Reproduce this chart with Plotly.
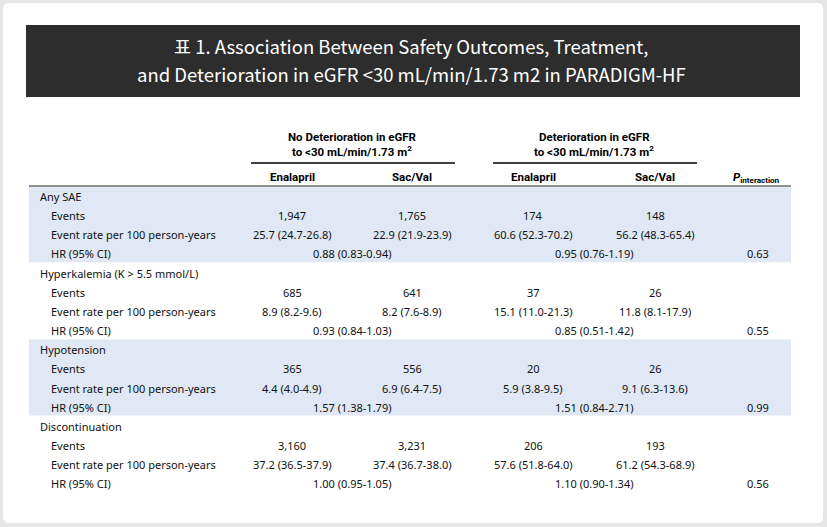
import plotly.graph_objects as go

# ---- table content ----
title_lines = ["표 1. Association Between Safety Outcomes, Treatment,",
               "and Deterioration in eGFR &lt;30 mL/min/1.73 m2 in PARADIGM-HF"]
groups = ["No Deterioration in eGFR", "Deterioration in eGFR"]
group_sub = "to &lt;30 mL/min/1.73 m<sup>2</sup>"
arms = ["Enalapril", "Sac/Val", "Enalapril", "Sac/Val"]
outcomes = ["Any SAE", "Hyperkalemia (K > 5.5 mmol/L)", "Hypotension", "Discontinuation"]
row_labels = ["Events", "Event rate per 100 person-years", "HR (95% CI)"]

no_det_enal_events = [1947, 685, 365, 3160]
no_det_sac_events = [1765, 641, 556, 3231]
det_enal_events = [174, 37, 20, 206]
det_sac_events = [148, 26, 26, 193]

no_det_enal_rate = [(25.7, 24.7, 26.8), (8.9, 8.2, 9.6), (4.4, 4.0, 4.9), (37.2, 36.5, 37.9)]
no_det_sac_rate = [(22.9, 21.9, 23.9), (8.2, 7.6, 8.9), (6.9, 6.4, 7.5), (37.4, 36.7, 38.0)]
det_enal_rate = [(60.6, 52.3, 70.2), (15.1, 11.0, 21.3), (5.9, 3.8, 9.5), (57.6, 51.8, 64.0)]
det_sac_rate = [(56.2, 48.3, 65.4), (11.8, 8.1, 17.9), (9.1, 6.3, 13.6), (61.2, 54.3, 68.9)]

no_det_hr = [(0.88, 0.83, 0.94), (0.93, 0.84, 1.03), (1.57, 1.38, 1.79), (1.00, 0.95, 1.05)]
det_hr = [(0.95, 0.76, 1.19), (0.85, 0.51, 1.42), (1.51, 0.84, 2.71), (1.10, 0.90, 1.34)]
p_interaction = [0.63, 0.55, 0.99, 0.56]

# ---- layout constants (pixel grid) ----
W, H = 827, 527
BG = "#e6e6e6"
BAND = "#dfe8f4"
BODY_FONT = "Noto Sans, Open Sans, sans-serif"
HEAD_FONT = "Liberation Sans Narrow, Roboto, sans-serif"
col_x = [292, 412, 533, 655]
hr_x = [352, 594]
p_x = 758
label_x, sub_x = 38, 49
row0, step = 196.5, 19.15


def ci(t, nd):
    return f"{t[0]:.{nd}f} ({t[1]:.{nd}f}-{t[2]:.{nd}f})"


def row_y(i):
    return row0 + i * step


fig = go.Figure()
shapes = []
ann = []

# card + banner
shapes.append(dict(type="path", path="M 9,3 L 817,3 Q 823,3 823,9 L 823,517 Q 823,523 817,523 "
                   "L 9,523 Q 3,523 3,517 L 3,9 Q 3,3 9,3 Z",
                   fillcolor="white", line_width=0, layer="below"))
shapes.append(dict(type="rect", x0=26, x1=800, y0=25, y1=97, fillcolor="#2d2d2d", line_width=0, layer="below"))
for k, t in enumerate(title_lines):
    ann.append(dict(x=411, y=46 + 28 * k, text=t, showarrow=False,
                    font=dict(family="Noto Sans CJK KR", size=18.5, color="white")))

# group headers
head = dict(family=HEAD_FONT, size=11.5, color="black")
for g, name in enumerate(groups):
    cx = (col_x[2 * g] + col_x[2 * g + 1]) / 2
    ann.append(dict(x=cx, y=137, text=f"<b>{name}</b>", showarrow=False, font=head))
    ann.append(dict(x=cx, y=151, text=f"<b>{group_sub}</b>", showarrow=False, font=head))
    shapes.append(dict(type="line", x0=cx - 101, x1=cx + 103, y0=163, y1=163,
                       line=dict(color="black", width=1.5)))

for x, a in zip(col_x, arms):
    ann.append(dict(x=x, y=177, text=f"<b>{a}</b>", showarrow=False, font=head))
ann.append(dict(x=p_x - 2, y=177, text="<b><i>P</i><sub>interaction</sub></b>", showarrow=False, font=head))
shapes.append(dict(type="line", x0=29, x1=791, y0=186, y1=186, line=dict(color="#6e6e6e", width=1.5)))

# body rows
cols = [
    (no_det_enal_events, no_det_enal_rate),
    (no_det_sac_events, no_det_sac_rate),
    (det_enal_events, det_enal_rate),
    (det_sac_events, det_sac_rate),
]
body = dict(family=BODY_FONT, size=11, color="#111111")
for g, name in enumerate(outcomes):
    base = g * 4
    if g % 2 == 0:
        shapes.append(dict(type="rect", x0=29, x1=791, y0=row_y(base) - 10.3,
                           y1=row_y(base + 4) - 10.3 - 0.5, fillcolor=BAND, line_width=0, layer="below"))
    ann.append(dict(x=label_x, y=row_y(base), text=name, xanchor="left", showarrow=False, font=body))
    for r, lab in enumerate(row_labels):
        ann.append(dict(x=sub_x, y=row_y(base + 1 + r), text=lab, xanchor="left", showarrow=False, font=body))
    for x, (ev, rate) in zip(col_x, cols):
        ann.append(dict(x=x, y=row_y(base + 1), text=f"{ev[g]:,}", showarrow=False, font=body))
        ann.append(dict(x=x, y=row_y(base + 2), text=ci(rate[g], 1), showarrow=False, font=body))
    for x, hr in zip(hr_x, [no_det_hr, det_hr]):
        ann.append(dict(x=x, y=row_y(base + 3), text=ci(hr[g], 2), showarrow=False, font=body))
    ann.append(dict(x=p_x, y=row_y(base + 3), text=f"{p_interaction[g]:.2f}", showarrow=False, font=body))

fig.update_layout(
    width=W, height=H,
    margin=dict(l=0, r=0, t=0, b=0),
    paper_bgcolor=BG, plot_bgcolor=BG,
    xaxis=dict(range=[0, W], visible=False, fixedrange=True),
    yaxis=dict(range=[H, 0], visible=False, fixedrange=True),
    shapes=shapes, annotations=ann, showlegend=False,
)

fig.write_html("out.html", config={"displayModeBar": False},
               post_script="document.body.style.margin='0';")
